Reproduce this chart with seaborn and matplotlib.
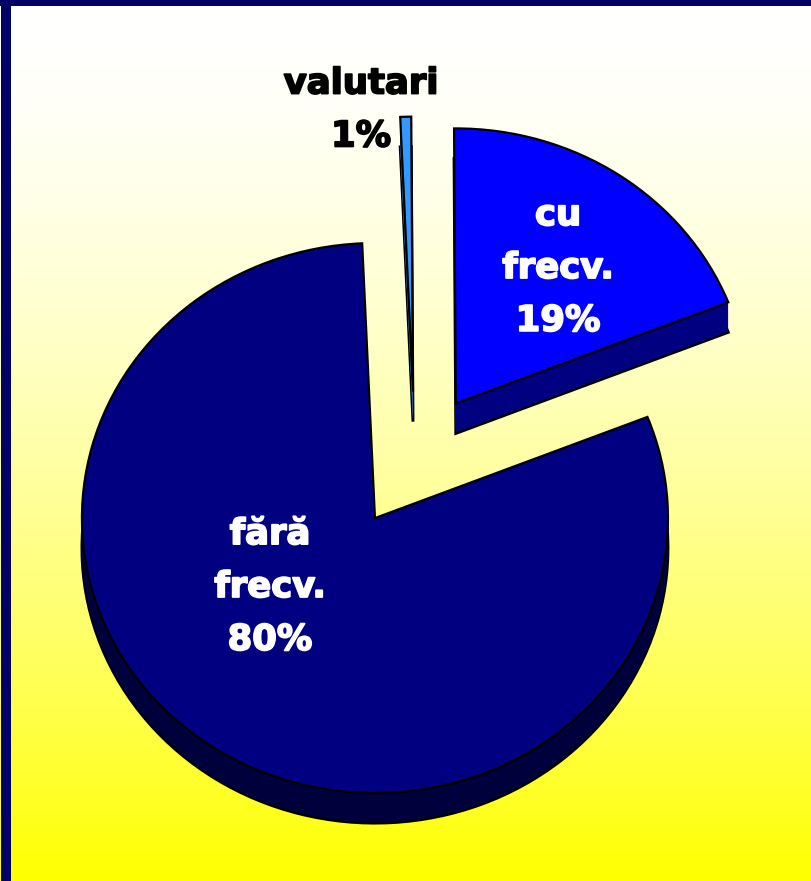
import numpy as np
import matplotlib
matplotlib.use("Agg")
import matplotlib.pyplot as plt
from matplotlib.patches import Rectangle
import matplotlib.patheffects as pe
import seaborn as sns

# ---- data ----
categories = ["valutari", "cu frecv.", "fără frecv."]
shares = [0.6, 19.1, 80.3]
pct_labels = ["1%", "19%", "80%"]
label_lines = ["valutari", "cu\nfrecv.", "fără\nfrecv."]

top_colors = ["#3399FF", "#0000FF", "#000080"]
side_colors = ["#1F5C99", "#000080", "#00003C"]
explode = [0.25, 0.25, 0.25]
text_colors = ["black", "white", "white"]

sns.set_theme(style="white")
plt.rcParams['font.family'] = ['DejaVu Sans']

W, H = 811, 881
fig = plt.figure(figsize=(W / 100, H / 100), dpi=100)

# background gradient (white -> yellow) and navy frame
bg = fig.add_axes([0, 0, 1, 1])
g = np.linspace(0, 1, H)
img = np.ones((H, 1, 3))
img[:, 0, 2] = 1 - g ** 1.6
bg.imshow(img, aspect='auto', extent=(0, W, H, 0))
bg.set_xlim(0, W)
bg.set_ylim(H, 0)
bg.axis('off')
bg.add_patch(Rectangle((1, 0), 10, H, color='#000066', lw=0))
bg.add_patch(Rectangle((0, 0), W, 6, color='#000066', lw=0))

# pie axes
ax = fig.add_axes([0, 0, 1, 1])
ax.set_facecolor('none')
sx, sy = 293.0, 275.0      # px per data unit
cx, cy = 414.8, 460.4      # pie centre in px (from top-left)
depth = 30.0 / sy
nlay = 30
start = 92.5
common = dict(explode=explode, startangle=start, counterclock=False,
              radius=1.0, frame=True)

# bottom layer with outline
ax.pie(shares, colors=side_colors, center=(0, -depth),
       wedgeprops=dict(edgecolor='black', linewidth=2.1), **common)
# extrusion layers
for k in range(nlay - 1, 0, -1):
    ax.pie(shares, colors=side_colors, center=(0, -depth * k / nlay),
           wedgeprops=dict(edgecolor='none', linewidth=0), **common)
# top surface
ax.pie(shares, colors=top_colors, center=(0, 0),
       wedgeprops=dict(edgecolor='black', linewidth=1.6), **common)

ax.set_aspect('auto')
ax.set_xlim(-cx / sx, (W - cx) / sx)
ax.set_ylim(-(H - cy) / sy, cy / sy)
ax.axis('off')

# labels
label_px = [(361, 110), (558, 268), (270, 587)]
for (px, py), name, pct, col in zip(label_px, label_lines, pct_labels, text_colors):
    ax.text((px - cx) / sx, (cy - py) / sy, f"{name}\n{pct}",
            ha='center', va='center', multialignment='center',
            fontsize=25.5, fontweight='bold', color=col, linespacing=1.7,
            path_effects=[pe.withStroke(linewidth=1.3, foreground=col)])

fig.savefig("out.png", dpi=100)
